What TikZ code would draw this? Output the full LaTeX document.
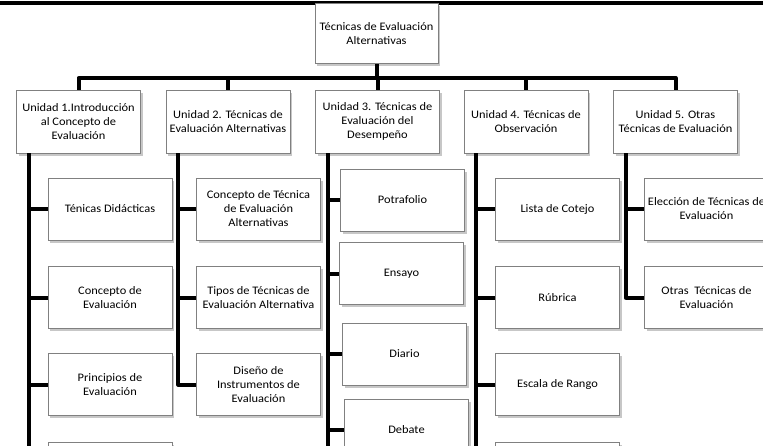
\documentclass[tikz,border=0pt]{standalone}
\usepackage{fontspec}
\setmainfont{Carlito}[FakeStretch=1.08]
\usetikzlibrary{shadows}

\definecolor{bordecaja}{HTML}{808080}

\tikzset{
  caja/.style={draw=bordecaja, fill=white, line width=0.8pt,
    minimum width=124pt, minimum height=62pt, inner sep=1pt, align=center,
    font=\fontsize{11.5}{14}\selectfont,
    drop shadow={shadow xshift=2pt, shadow yshift=-2.5pt, fill=black, opacity=0.22}},
  linea/.style={line width=4pt, line join=round}
}

\begin{document}
\begin{tikzpicture}[x=1pt,y=-1pt]
\useasboundingbox (0,0) rectangle (763,445);
\clip (0,0) rectangle (763,445);

\coordinate (izq) at (0,3);
\coordinate (der) at (763,3);
\coordinate (bus) at (0,78);
\coordinate (fondo) at (0,450);
\draw[linea] (izq) -- (der);

% raiz
\node[caja, minimum width=123pt, minimum height=60pt] (root) at (376.5,33.5) {Técnicas de Evaluación\\Alternativas};

% unidades
\node[caja, minimum height=63pt] (u1) at (78.5,121.5) {Unidad 1.Introducción\\al Concepto de\\Evaluación};
\node[caja, minimum height=63pt] (u2) at (228,121.5) {Unidad 2. Técnicas de\\Evaluación Alternativas};
\node[caja, minimum height=63pt] (u3) at (377.5,121.5) {Unidad 3. Técnicas de\\Evaluación del\\Desempeño};
\node[caja, minimum height=63pt] (u4) at (526,121.5) {Unidad 4. Técnicas de\\Observación};
\node[caja, minimum height=63pt] (u5) at (675.5,121.5) {Unidad 5. Otras\\Técnicas de Evaluación};

% temas
\node[caja] (k11) at (110,209) {Ténicas Didácticas};
\node[caja] (k12) at (110,297.5) {Concepto de\\Evaluación};
\node[caja] (k13) at (110,384.5) {Principios de\\Evaluación};
\node[caja] (k14) at (110,473) {};

\node[caja] (k21) at (258.5,209) {Concepto de Técnica\\de Evaluación\\Alternativas};
\node[caja] (k22) at (258.5,297.5) {Tipos de Técnicas de\\Evaluación Alternativa};
\node[caja] (k23) at (258.5,384.5) {Diseño de\\Instrumentos de\\Evaluación};

\node[caja] (k31) at (402.5,200) {Potrafolio};
\node[caja] (k32) at (401.5,273.5) {Ensayo};
\node[caja] (k33) at (404.5,354) {Diario};
\node[caja] (k34) at (406.5,430) {Debate};

\node[caja] (k41) at (557.5,209) {Lista de Cotejo};
\node[caja] (k42) at (557.5,297.5) {Rúbrica};
\node[caja] (k43) at (557.5,384.5) {Escala de Rango};
\node[caja] (k44) at (557.5,473) {};

\node[caja] (k51) at (706.5,209) {Elección de Técnicas de\\Evaluación};
\node[caja] (k52) at (706.5,297.5) {Otras~ Técnicas de\\Evaluación};

% conectores
\draw[linea] (root.south) -- (root.south |- bus);
\draw[linea] (u1.north) -- (u1.north |- bus) -- (u5.north |- bus) -- (u5.north);
\foreach \u in {u2,u3,u4}
  \draw[linea] (\u.north |- bus) -- (\u.north);

\foreach \u in {u1,u2,u3,u4,u5}
  \coordinate (s\u) at ([xshift=12.5pt]\u.south west);

\foreach \u/\k in {u1/k11,u1/k12,u1/k13,u1/k14,
                   u2/k21,u2/k22,u2/k23,
                   u3/k31,u3/k32,u3/k33,u3/k34,
                   u4/k41,u4/k42,u4/k43,u4/k44,
                   u5/k51,u5/k52}
  \draw[linea] (s\u) |- (\k.west);
\draw[linea] (su3) -- (su3 |- fondo);
\end{tikzpicture}
\end{document}
